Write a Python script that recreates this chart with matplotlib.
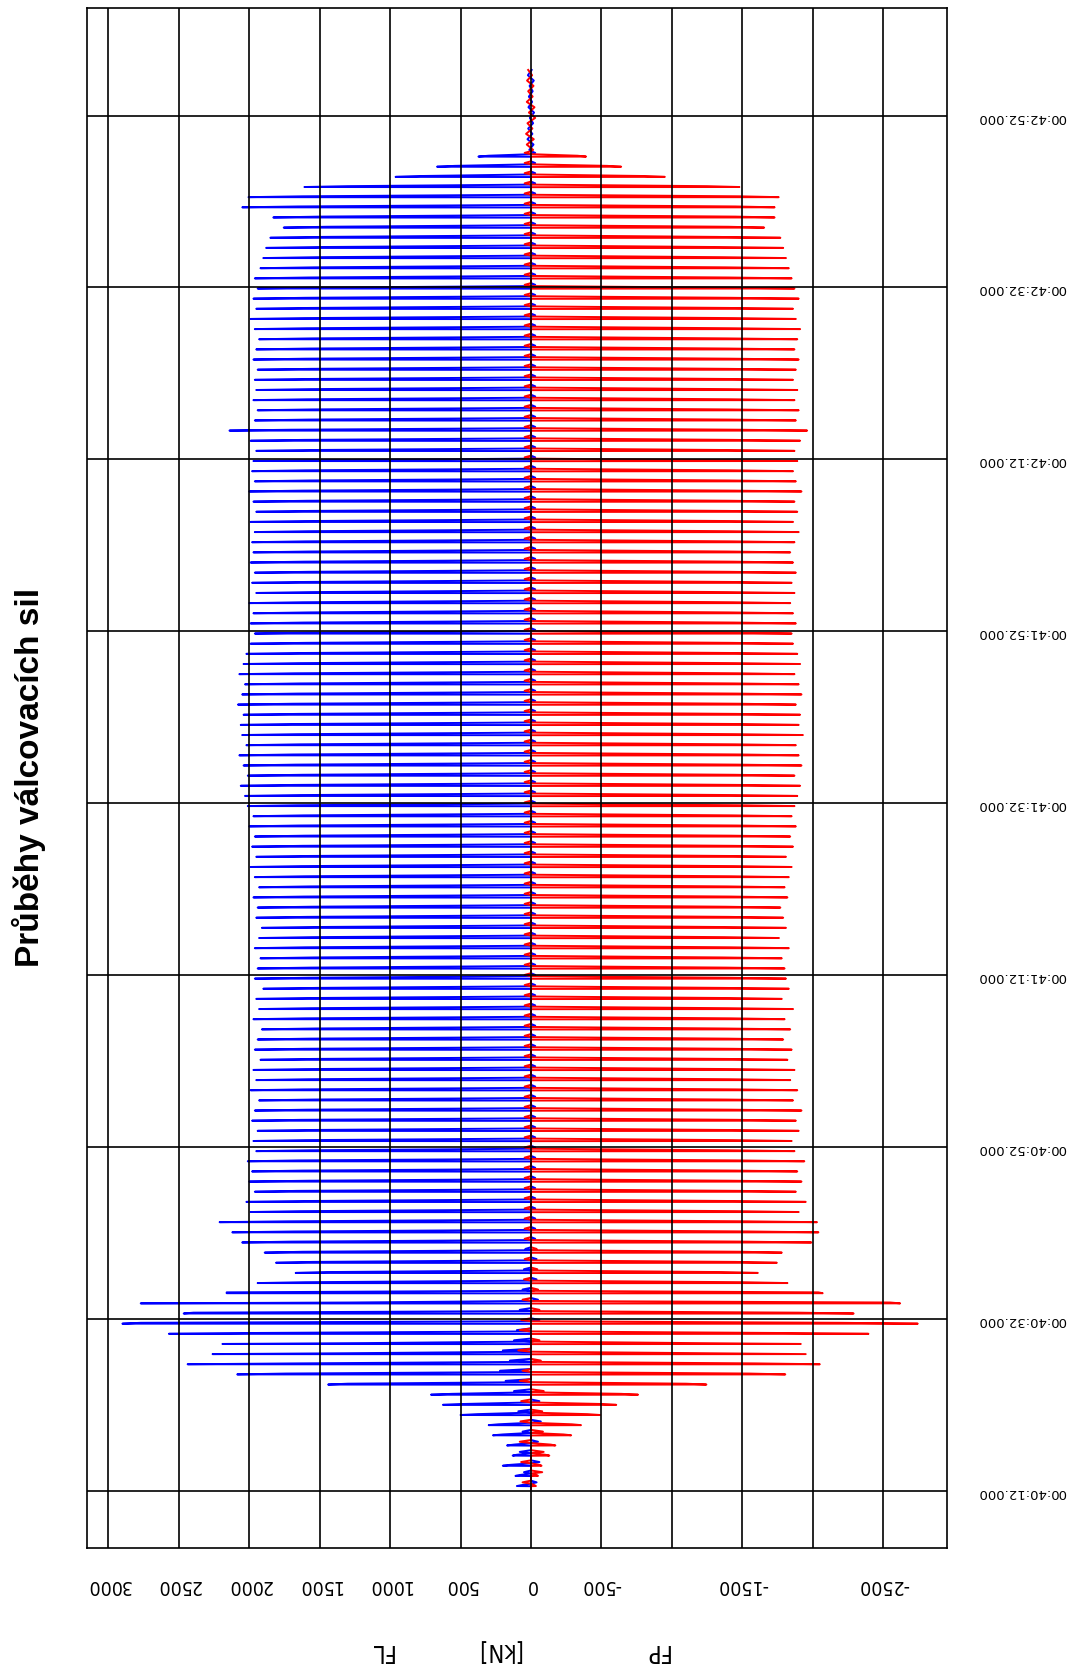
import numpy as np
import matplotlib
matplotlib.use("Agg")
import matplotlib.pyplot as plt
from matplotlib.ticker import FuncFormatter

# -------------------------------------------------
# DATA
# time in seconds since 00:00:00, forces in kN
# -------------------------------------------------

T_FIRST = 2412.55      # first pass, 00:40:12.55
PERIOD = 1.1806        # spacing of the passes [s]
TAIL_STEP = 0.62       # spacing of the idle samples after the last pass [s]

# FL (blue) - peak of every pass and the level it holds
fl_peak = [100, 110, 200, 130, 170, 270, 300, 500, 625, 710, 1440, 2085,
           2437, 2260, 2190, 2570, 2900, 2465, 2770, 2160, 1940, 1670, 1810, 1890,
           2050, 2120, 2210,
           1990, 2020, 1960, 2000, 1980, 2010, 1950,
           1970, 1940, 1980, 1960, 1930, 1990, 1950, 1970,
           1920, 1960, 1940, 1910, 1970, 1930, 1950, 1900, 1960,
           1940, 1920, 1960, 1930, 1910, 1950, 1940, 1970, 1930,
           1960, 1990, 1950, 1980, 1960, 2000, 1970, 2010,
           2030, 2060, 2010, 2040, 2070, 2020, 2050, 2060,
           2040, 2080, 2050, 2030, 2070, 2040, 2020, 1990,
           1960, 1990, 1970, 2000, 1950, 1980, 1960, 1990, 1970,
           1980, 1960, 1990, 1950, 1970, 2000, 1960, 1980,
           1970, 1950, 1990, 2140, 1960, 1940, 1970, 1950, 1960,
           1940, 1970, 1950, 1930, 1960, 1990, 1950, 1970, 1940, 1960,
           1920, 1900, 1880, 1850,
           1755, 1829, 2049, 2005, 1608, 961, 667, 373]

fl_level = [70, 80, 150, 100, 120, 200, 230, 380, 480, 560, 1300, 1740,
            1655, 1316, 1176, 1926, 2770, 2395, 1270, 2160, 1600, 1450, 1550, 1620,
            1700, 1680, 1720, 1640, 1600, 1660, 1580, 1620, 1650, 1570,
            1600, 1560, 1630, 1590, 1540, 1620, 1580, 1600, 1550, 1610,
            1570, 1530, 1600, 1560, 1590, 1520, 1580, 1560, 1540, 1600,
            1550, 1520, 1590, 1560, 1610, 1570, 1600, 1630, 1580, 1620,
            1600, 1650, 1610, 1660, 1640, 1680, 1620, 1670, 1690, 1640,
            1660, 1700, 1650, 1690, 1660, 1640, 1680, 1650, 1620, 1600,
            1580, 1610, 1570, 1620, 1560, 1600, 1580, 1610, 1570, 1600,
            1580, 1610, 1560, 1590, 1620, 1570, 1600, 1580, 1560, 1610,
            1700, 1580, 1550, 1590, 1570, 1580, 1560, 1600, 1570, 1550,
            1590, 1610, 1570, 1600, 1560, 1580, 1540, 1520, 1500, 1480,
            1450, 1500, 1650, 1620, 1300, 780, 540, 300]

# FP (red)
fp_peak = [-35, -50, -75, -130, -173, -285, -355, -490, -605, -760, -1245, -1805,
           -2050, -1950, -1915, -2395, -2745, -2290, -2620, -2070, -1820, -1610, -1745, -1780,
           -1990, -2040, -2030,
           -1900, -1950, -1880, -1920, -1890, -1940, -1870,
           -1850, -1900, -1880, -1920, -1860, -1890, -1840, -1870,
           -1820, -1850, -1790, -1840, -1800, -1860, -1780, -1830, -1810,
           -1800, -1780, -1830, -1760, -1810, -1790, -1770, -1820, -1800,
           -1830, -1850, -1810, -1860, -1840, -1880, -1850, -1870,
           -1890, -1910, -1870, -1920, -1900, -1880, -1930, -1900,
           -1910, -1880, -1920, -1900, -1870, -1910, -1890, -1860,
           -1850, -1880, -1860, -1840, -1870, -1850, -1880, -1860, -1840,
           -1870, -1900, -1860, -1890, -1870, -1920, -1880, -1860,
           -1890, -1870, -1910, -1960, -1880, -1900, -1870, -1890, -1860,
           -1880, -1900, -1870, -1890, -1910, -1880, -1860, -1900, -1870, -1850,
           -1830, -1810, -1790, -1770,
           -1655, -1729, -1729, -1758, -1479, -950, -640, -391]

fp_level = [-25, -40, -60, -100, -140, -230, -290, -400, -500, -640, -1100, -1550,
            -1590, -1280, -1150, -1725, -2200, -1900, -2550, -2040, -1500, -1350, -1450, -1500,
            -1500, -1540, -1520, -1460, -1430, -1480, -1420, -1450, -1470, -1400,
            -1430, -1390, -1460, -1420, -1380, -1450, -1410, -1440, -1390, -1430,
            -1400, -1370, -1420, -1390, -1410, -1360, -1400, -1380, -1360, -1410,
            -1370, -1350, -1400, -1380, -1420, -1390, -1410, -1440, -1400, -1430,
            -1420, -1460, -1430, -1470, -1450, -1480, -1440, -1470, -1490, -1450,
            -1460, -1490, -1450, -1480, -1460, -1440, -1470, -1450, -1430, -1420,
            -1410, -1440, -1400, -1430, -1390, -1420, -1400, -1430, -1390, -1420,
            -1400, -1430, -1390, -1420, -1440, -1400, -1420, -1400, -1390, -1430,
            -1480, -1410, -1390, -1420, -1400, -1410, -1390, -1420, -1400, -1380,
            -1410, -1430, -1400, -1420, -1390, -1400, -1380, -1360, -1340, -1320,
            -1400, -1450, -1450, -1480, -1250, -800, -540, -330]

# swing around zero right after the first passes (noisier start)
fl_swing_early = [-40, 50, -60, 80, -50, 60, -70, 90, -60, 120, 180, 220,
                  150, 200, 120, 100, -60, 80, -50, 60, -40, 50, -40, 40]
fp_swing_early = [60, -80, 70, -90, 80, -85, 75, -80, 70, -90, 80, 60,
                  -70, 90, -60, 80, 70, -60, 60, -50, 50, -45, 45, -40]
# and later on
FL_SWING = -30
FP_SWING = 45

# idle signal after the last pass
fl_tail = [12, -18, 25, -10, 20, -15, 8, -22, 18, -8, 15, -12, 10, -20, 22, -5]
fp_tail = [-15, 30, -20, 35, -10, 25, -30, 15, -25, 30, -12, 20, -18, 28, -8, 20]

force_ticks = [3000, 2500, 2000, 1500, 1000, 500, 0, -500, -1000, -1500, -2000, -2500]
force_labels = ["3000", "2500", "2000", "1500", "1000", "500", "0", "-500", "", "-1500", "", "-2500"]
time_ticks = [2412, 2432, 2452, 2472, 2492, 2512, 2532, 2552, 2572]


def build_trace(peaks, levels, swing_early, swing, tail):
    t = [T_FIRST - 0.3]
    v = [0.0]
    for i, (p, lv) in enumerate(zip(peaks, levels)):
        t0 = T_FIRST + i * PERIOD
        sw = swing_early[i] if i < len(swing_early) else swing
        t += [t0, t0 + 0.02, t0 + 0.12, t0 + 0.30, t0 + 0.45, t0 + 0.65]
        v += [0, p, lv, 0, sw, 0]
    t_end = T_FIRST + (len(peaks) - 1) * PERIOD + 0.8
    for k, val in enumerate(tail):
        t += [t_end + k * TAIL_STEP]
        v += [val]
    return np.array(v), np.array(t)


def fmt_time(sec, pos):
    sec = int(round(sec))
    return "%02d:%02d:%02d.000" % (sec // 3600, (sec % 3600) // 60, sec % 60)


fl_v, fl_t = build_trace(fl_peak, fl_level, fl_swing_early, FL_SWING, fl_tail)
fp_v, fp_t = build_trace(fp_peak, fp_level, fp_swing_early, FP_SWING, fp_tail)

# -------------------------------------------------
# PLOT (chart is turned on its side)
# -------------------------------------------------

fig = plt.figure(figsize=(10.77, 16.72), dpi=100)
ax = fig.add_axes([0.0812, 0.0740, 0.7980, 0.9210])

ax.plot(fl_v, fl_t, color="#0000ff", lw=1.4, zorder=2)
ax.plot(fp_v, fp_t, color="#ff0000", lw=1.4, zorder=2)

ax.set_xlim(3148, -2952)
ax.set_ylim(2405.33, 2584.47)

ax.set_axisbelow(False)
ax.grid(True, color="black", lw=1.2, zorder=3)
for sp in ax.spines.values():
    sp.set_linewidth(1.2)
    sp.set_zorder(4)

ax.set_xticks(force_ticks)
ax.set_xticklabels(force_labels, fontsize=14, fontstretch="condensed")
ax.set_yticks(time_ticks)
ax.yaxis.set_major_formatter(FuncFormatter(fmt_time))
ax.yaxis.tick_right()
ax.tick_params(axis="x", length=0, pad=20, labelrotation=180)
ax.tick_params(axis="y", length=0, pad=22, labelrotation=180, labelsize=9.5)

fig.text(0.0265, 0.535, "Průběhy válcovacích sil", rotation=90, fontsize=24,
         fontweight="bold", family="Liberation Sans", ha="center", va="center")
fig.text(0.354, 0.0125, "FL", rotation=180, fontsize=17, fontstretch="condensed",
         ha="center", va="center")
fig.text(0.463, 0.0125, "[kN]", rotation=180, fontsize=17, fontstretch="condensed",
         ha="center", va="center")
fig.text(0.609, 0.0125, "FP", rotation=180, fontsize=17, fontstretch="condensed",
         ha="center", va="center")

fig.savefig("out.png", dpi=100)
